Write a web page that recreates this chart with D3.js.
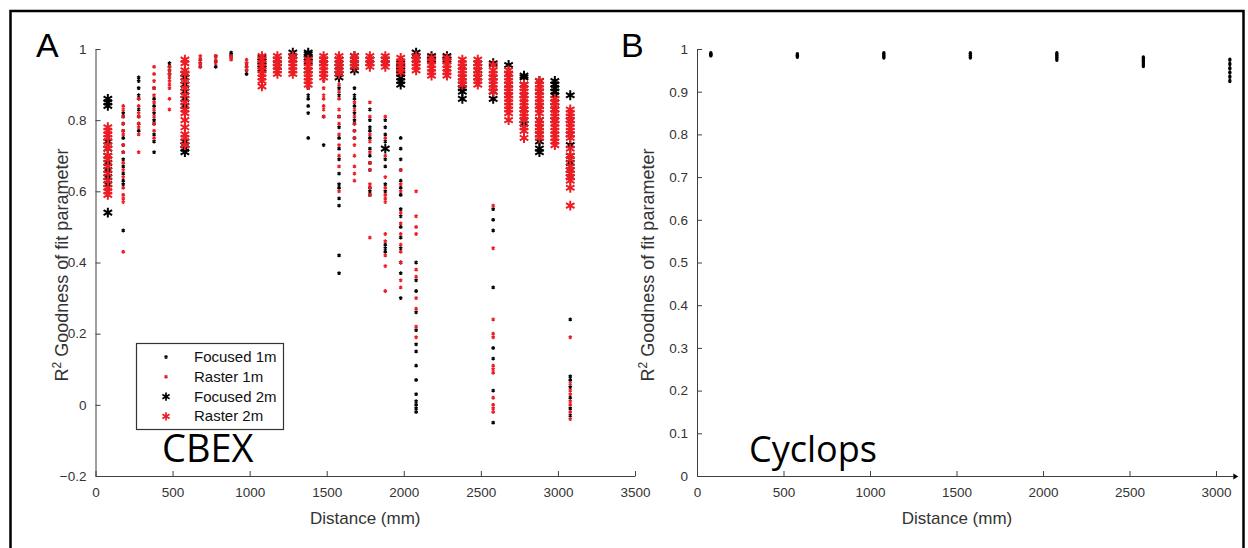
<!DOCTYPE html>
<html>
<head>
<meta charset="utf-8">
<script src="https://cdn.jsdelivr.net/npm/d3@7"></script>
<style>
body { margin: 0; background: #fff; }
text { font-family: "Liberation Sans", Arial, sans-serif; }
</style>
</head>
<body>
<svg id="chart" width="1248" height="548"></svg>
<script>
// ---- data, panel A (CBEX): one list of R^2 values per distance ----
const distA = [80, 180, 280, 380, 480, 580, 680, 780, 880, 980, 1080, 1180, 1280, 1380, 1480,
               1580, 1680, 1780, 1880, 1980, 2080, 2180, 2280, 2380, 2480, 2580, 2680, 2780, 2880, 2980, 3080]

const focused1m = [
  [], [0.82, 0.81, 0.79, 0.77, 0.75, 0.73, 0.71, 0.69, 0.67, 0.65, 0.63, 0.62, 0.49],
  [0.92, 0.91, 0.89, 0.87, 0.86, 0.83, 0.81, 0.79, 0.77],
  [0.89, 0.86, 0.84, 0.82, 0.80, 0.79, 0.76, 0.74, 0.71],
  [0.96, 0.95, 0.94, 0.93], [],
  [0.97, 0.96, 0.95], [0.98, 0.965, 0.95], [0.99, 0.985, 0.98], [0.96, 0.95, 0.94, 0.93],
  [], [], [],
  [0.89, 0.87, 0.86, 0.84, 0.82, 0.75],
  [0.81, 0.73],
  [0.89, 0.87, 0.81, 0.78, 0.75, 0.72, 0.69, 0.65, 0.62, 0.61, 0.58, 0.56, 0.42, 0.37],
  [0.89, 0.87, 0.86, 0.84, 0.82, 0.80, 0.79, 0.77, 0.75],
  [0.83, 0.80, 0.78, 0.77, 0.75, 0.72, 0.70, 0.68, 0.66, 0.61, 0.60, 0.59],
  [0.80, 0.78, 0.76, 0.74, 0.69, 0.67, 0.62, 0.60, 0.45, 0.44, 0.43],
  [0.75, 0.72, 0.69, 0.66, 0.63, 0.61, 0.59, 0.55, 0.53, 0.50, 0.47, 0.44, 0.40, 0.37, 0.30],
  [0.40, 0.35, 0.32, 0.26, 0.21, 0.17, 0.15, 0.11, 0.07, 0.03, 0.01, 0.0, -0.01, -0.02],
  [], [], [], [],
  [0.55, 0.52, 0.49, 0.33, 0.16, 0.13, 0.04, -0.05],
  [], [], [], [],
  [0.24, 0.08, 0.07, 0.05, 0.02, -0.01, -0.03]
]

const raster1m = [
  [], [0.84, 0.83, 0.81, 0.79, 0.77, 0.76, 0.73, 0.71, 0.68, 0.66, 0.64, 0.61, 0.59, 0.58, 0.57, 0.43],
  [0.86, 0.84, 0.82, 0.81, 0.79, 0.78, 0.76, 0.71],
  [0.95, 0.93, 0.91, 0.89, 0.87, 0.85, 0.83, 0.81, 0.79, 0.77, 0.75],
  [0.95, 0.94, 0.93, 0.92, 0.91, 0.90, 0.89, 0.86, 0.83], [],
  [0.98, 0.97, 0.96, 0.95], [0.98, 0.97, 0.96], [0.98, 0.975, 0.97], [0.97, 0.96, 0.95, 0.94],
  [], [], [],
  [0.90, 0.89],
  [0.91, 0.89, 0.87, 0.86, 0.84, 0.83, 0.81],
  [0.90, 0.88, 0.86, 0.83, 0.81, 0.79, 0.76, 0.73, 0.70, 0.67, 0.60],
  [0.85, 0.83, 0.81, 0.79, 0.77, 0.75, 0.73, 0.70, 0.67, 0.65, 0.63],
  [0.85, 0.81, 0.76, 0.74, 0.71, 0.68, 0.66, 0.62, 0.61, 0.59, 0.47],
  [0.81, 0.75, 0.70, 0.64, 0.61, 0.59, 0.58, 0.57, 0.48, 0.46, 0.42, 0.39, 0.32],
  [0.66, 0.62, 0.60, 0.54, 0.51, 0.48, 0.45, 0.43, 0.40, 0.35, 0.33],
  [0.60, 0.53, 0.50, 0.48, 0.38, 0.36, 0.30, 0.27, 0.22, 0.19],
  [], [], [], [],
  [0.56, 0.44, 0.24, 0.20, 0.19, 0.11, 0.10, 0.09, 0.02, 0.0, -0.01, -0.02],
  [], [], [], [],
  [0.19, 0.06, 0.04, 0.03, 0.01, 0.0, -0.02, -0.04]
]

const focused2m = [
  [0.86, 0.85, 0.84, 0.74, 0.72, 0.70, 0.68, 0.66, 0.64, 0.62, 0.54],
  [], [], [], [],
  [0.93, 0.92, 0.90, 0.88, 0.86, 0.84, 0.74, 0.73, 0.72, 0.71],
  [], [], [], [],
  [0.975, 0.965, 0.955, 0.945],
  [0.97, 0.96, 0.95],
  [0.99, 0.98, 0.97],
  [0.99, 0.985, 0.975, 0.965, 0.94],
  [0.97, 0.96],
  [0.97, 0.96, 0.95, 0.94, 0.93, 0.92],
  [0.98, 0.97, 0.96, 0.95, 0.94],
  [0.97, 0.96],
  [0.97, 0.96, 0.72],
  [0.96, 0.95, 0.94, 0.93, 0.92, 0.91, 0.90],
  [0.99, 0.98, 0.97],
  [0.98, 0.97],
  [0.98, 0.97],
  [0.95, 0.92, 0.90, 0.89, 0.88, 0.86],
  [0.96, 0.94, 0.92],
  [0.96, 0.92, 0.88, 0.86],
  [0.955, 0.93, 0.90, 0.87],
  [0.925, 0.92, 0.90, 0.87, 0.83, 0.80, 0.79],
  [0.91, 0.88, 0.84, 0.80, 0.78, 0.76, 0.74, 0.72, 0.71],
  [0.91, 0.90, 0.89, 0.88, 0.87, 0.85, 0.83, 0.80],
  [0.87, 0.80, 0.76, 0.73, 0.70, 0.68, 0.66, 0.64]
]

const raster2m = [
  [0.78, 0.77, 0.76, 0.75, 0.73, 0.72, 0.70, 0.69, 0.67, 0.65, 0.63, 0.61, 0.60, 0.59],
  [], [], [], [],
  [0.97, 0.96, 0.94, 0.93, 0.91, 0.89, 0.87, 0.85, 0.83, 0.82, 0.80, 0.78, 0.76, 0.75, 0.73],
  [], [], [], [],
  [0.98, 0.97, 0.96, 0.95, 0.94, 0.93, 0.92, 0.91, 0.895],
  [0.98, 0.97, 0.96, 0.95, 0.94, 0.93],
  [0.98, 0.97, 0.96, 0.95, 0.94, 0.93],
  [0.97, 0.96, 0.95, 0.94, 0.93, 0.92, 0.91, 0.90],
  [0.98, 0.97, 0.96, 0.95, 0.94, 0.93, 0.92],
  [0.98, 0.97, 0.96, 0.95, 0.94, 0.93],
  [0.98, 0.97, 0.96, 0.95],
  [0.98, 0.97, 0.96, 0.95],
  [0.98, 0.97, 0.96, 0.95],
  [0.975, 0.965, 0.955, 0.945, 0.935],
  [0.98, 0.97, 0.96, 0.95, 0.94],
  [0.975, 0.965, 0.955, 0.945, 0.935, 0.925],
  [0.975, 0.965, 0.955, 0.945, 0.935, 0.925],
  [0.97, 0.96, 0.95, 0.94, 0.93, 0.92, 0.91, 0.90],
  [0.97, 0.96, 0.95, 0.94, 0.93, 0.92, 0.91, 0.90],
  [0.955, 0.94, 0.93, 0.92, 0.91, 0.90, 0.89, 0.88],
  [0.94, 0.93, 0.92, 0.91, 0.90, 0.89, 0.88, 0.87, 0.86, 0.85, 0.84, 0.83, 0.82, 0.80],
  [0.90, 0.89, 0.88, 0.87, 0.86, 0.85, 0.84, 0.83, 0.82, 0.81, 0.80, 0.78, 0.77, 0.75],
  [0.91, 0.90, 0.89, 0.88, 0.87, 0.86, 0.85, 0.84, 0.83, 0.82, 0.80, 0.79, 0.78, 0.77, 0.76, 0.75],
  [0.86, 0.85, 0.84, 0.83, 0.82, 0.81, 0.80, 0.79, 0.78, 0.77, 0.76, 0.75, 0.74, 0.73],
  [0.83, 0.82, 0.81, 0.80, 0.79, 0.78, 0.77, 0.76, 0.75, 0.72, 0.70, 0.69, 0.67, 0.66, 0.65, 0.64, 0.63, 0.61, 0.56]
]

// ---- data, panel B (Cyclops) ----
const distB = [80, 580, 1080, 1580, 2080, 2580, 3080]
const cyclops = [
  [0.99, 0.987, 0.985],
  [0.988, 0.985, 0.982],
  [0.99, 0.985, 0.98],
  [0.99, 0.985, 0.98],
  [0.99, 0.985, 0.98, 0.975],
  [0.98, 0.975, 0.97, 0.965, 0.96],
  [0.975, 0.965, 0.955, 0.945, 0.935, 0.925]
]

const ticksAX = [0, 500, 1000, 1500, 2000, 2500, 3000, 3500]
const ticksAY = [-0.2, 0, 0.2, 0.4, 0.6, 0.8, 1]
const ticksBX = [0, 500, 1000, 1500, 2000, 2500, 3000]
const ticksBY = [0, 0.1, 0.2, 0.3, 0.4, 0.5, 0.6, 0.7, 0.8, 0.9, 1]

const seriesA = [
  { label: 'Focused 1m', values: focused1m, color: '#000', big: false },
  { label: 'Raster 1m',  values: raster1m,  color: '#ee1c24', big: false },
  { label: 'Focused 2m', values: focused2m, color: '#000', big: true },
  { label: 'Raster 2m',  values: raster2m,  color: '#ee1c24', big: true }
]

const svg = d3.select('#chart')
const axisColor = '#404040'

// outer frame
svg.append('rect')
    .attr('x', 10.5).attr('y', 11)
    .attr('width', 1233).attr('height', 560)
    .attr('fill', 'none').attr('stroke', '#000').attr('stroke-width', 2.5)

const smallStar = d3.symbol().type(d3.symbolAsterisk).size(10)()
const bigStar   = d3.symbol().type(d3.symbolAsterisk).size(68)()

const styleAxis = (g) => {
    g.select('.domain').attr('stroke', axisColor)
    g.selectAll('.tick line').attr('stroke', axisColor)
    g.selectAll('.tick text')
        .attr('fill', '#333')
        .style('font-size', '13.5px')
}

// ---------------- panel A ----------------
const xA = d3.scaleLinear().domain([0, 3500]).range([95.5, 635])
const yA = d3.scaleLinear().domain([-0.2, 1]).range([476, 49])

svg.append('g')
    .attr('transform', 'translate(0,476)')
    .call(d3.axisBottom(xA).tickValues(ticksAX).tickFormat(d3.format('d'))
        .tickSizeInner(-5).tickSizeOuter(0).tickPadding(11))
    .call(styleAxis)

svg.append('g')
    .attr('transform', 'translate(95.5,0)')
    .call(d3.axisLeft(yA).tickValues(ticksAY).tickFormat(d => d3.format('')(+d.toFixed(1)))
        .tickSizeInner(-5).tickSizeOuter(0).tickPadding(9))
    .call(styleAxis)

const pts = (series) => series.values.flatMap((vals, i) => vals.map(v => ({ d: distA[i], v })))

seriesA.forEach(s => {
    svg.append('g').selectAll('path')
        .data(pts(s))
        .enter()
        .append('path')
        .attr('d', s.big ? bigStar : smallStar)
        .attr('transform', p => 'translate(' + xA(p.d) + ',' + yA(p.v) + ')')
        .attr('fill', 'none')
        .attr('stroke', s.color)
        .attr('stroke-width', s.big ? 2 : 1.3)
})

// legend
const leg = svg.append('g')
leg.append('rect')
    .attr('x', 136.5).attr('y', 343.5).attr('width', 147).attr('height', 86)
    .attr('fill', '#fff').attr('stroke', '#333').attr('stroke-width', 1.2)
seriesA.forEach((s, i) => {
    const y = 357 + i * 19.8
    leg.append('path')
        .attr('d', s.big ? d3.symbol().type(d3.symbolAsterisk).size(48)() : smallStar)
        .attr('transform', 'translate(166,' + y + ')')
        .attr('fill', 'none').attr('stroke', s.color).attr('stroke-width', s.big ? 1.7 : 1.2)
    leg.append('text')
        .attr('x', 194).attr('y', y + 5)
        .style('font-size', '15px')
        .attr('fill', '#111')
        .text(s.label)
})

// ---------------- panel B ----------------
const xB = d3.scaleLinear().domain([0, 3000]).range([697, 1216])
const yB = d3.scaleLinear().domain([0, 1]).range([476, 49])

svg.append('g')
    .attr('transform', 'translate(0,476)')
    .call(d3.axisBottom(xB).tickValues(ticksBX).tickFormat(d3.format('d'))
        .tickSizeInner(-5).tickSizeOuter(0).tickPadding(11))
    .call(styleAxis)
    .call(g => g.select('.domain').attr('d', 'M' + xB(0) + ',0.5H' + xB(3100)))

svg.append('path')
    .attr('d', 'M' + xB(3100) + ',473.5L' + (xB(3100) + 5) + ',476.5L' + xB(3100) + ',479.5Z')
    .attr('fill', '#000')

svg.append('g')
    .attr('transform', 'translate(697,0)')
    .call(d3.axisLeft(yB).tickValues(ticksBY).tickFormat(d => d3.format('')(+d.toFixed(1)))
        .tickSizeInner(-5).tickSizeOuter(0).tickPadding(9))
    .call(styleAxis)

svg.append('g').selectAll('ellipse')
    .data(cyclops.flatMap((vals, i) => vals.map(v => ({ d: distB[i], v }))))
    .enter()
    .append('ellipse')
    .attr('cx', p => xB(p.d))
    .attr('cy', p => yB(p.v))
    .attr('rx', 1.7).attr('ry', 2.2)
    .attr('fill', '#000')

// ---------------- labels ----------------
const addYLabel = (x, cy) => {
    const t = svg.append('text')
        .attr('transform', 'translate(' + x + ',' + cy + ') rotate(-90)')
        .attr('text-anchor', 'middle')
        .attr('fill', '#333')
        .style('font-size', '18px')
    t.append('tspan').text('R')
    t.append('tspan').attr('dy', -7).style('font-size', '12px').text('2')
    t.append('tspan').attr('dy', 7).text(' Goodness of fit parameter')
}
addYLabel(68, 265)
addYLabel(654, 265)

svg.append('text').attr('x', xA(1750)).attr('y', 524)
    .attr('text-anchor', 'middle').attr('fill', '#333').style('font-size', '17px')
    .text('Distance (mm)')
svg.append('text').attr('x', 957).attr('y', 524)
    .attr('text-anchor', 'middle').attr('fill', '#333').style('font-size', '17px')
    .text('Distance (mm)')

svg.append('text').attr('x', 36).attr('y', 57).style('font-size', '34px').text('A')
svg.append('text').attr('x', 621).attr('y', 57).style('font-size', '34px').text('B')

svg.append('text').attr('x', 162).attr('y', 462)
    .style('font-family', '"Open Sans", sans-serif').style('font-size', '38px').text('CBEX')
svg.append('text').attr('x', 749).attr('y', 462)
    .style('font-family', '"Open Sans", sans-serif').style('font-size', '36px').text('Cyclops')
</script>
</body>
</html>
